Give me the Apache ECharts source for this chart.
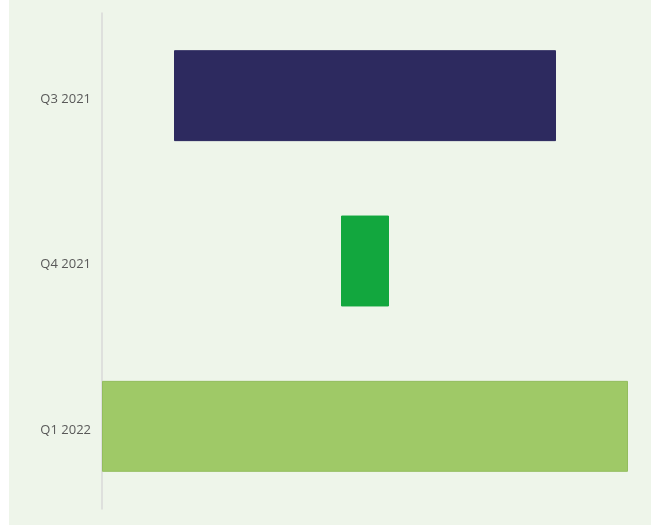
<!DOCTYPE html>
<html><head><meta charset="utf-8">
<script src="https://cdn.jsdelivr.net/npm/echarts@6/dist/echarts.min.js"></script>
<style>html,body{margin:0;padding:0;background:#fff}#c{width:651px;height:526px}</style>
</head><body><div id="c"></div>
<script>
const categories = ['Q3 2021', 'Q4 2021', 'Q1 2022'];
const barStart = [72, 239, 0];
const barEnd = [454, 287, 526];
const barColors = ['#2d2a5f', '#12a73e', '#9fc967'];
const borderColors = ['#2d2a5f', '#12a73e', '#93bd5e'];

const chart = echarts.init(document.getElementById('c'), null, {renderer: 'canvas'});
chart.setOption({
  backgroundColor: '#ffffff',
  animation: false,
  graphic: [{type: 'rect', z: -10, silent: true, shape: {x: 9, y: 0, width: 642, height: 525}, style: {fill: '#eef5ea'}}],
  grid: {left: 102, right: 11, top: 13, bottom: 17, containLabel: false},
  xAxis: {type: 'value', min: 0, max: 538, show: false},
  yAxis: {
    type: 'category', data: categories, inverse: true,
    axisLine: {show: true, lineStyle: {color: '#d9d9d9', width: 1.5}},
    axisTick: {show: false},
    axisLabel: {
      margin: 11,
      formatter: v => '{a|' + v + '}',
      rich: {a: {color: '#595959', fontSize: 13, fontFamily: 'Open Sans, sans-serif', padding: [7, 0, 0, 0]}}
    }
  },
  series: [
    {type: 'bar', stack: 'w', data: barStart, itemStyle: {color: 'transparent'}, barWidth: '55%', silent: true},
    {type: 'bar', stack: 'w', barWidth: '55%',
     data: barEnd.map((e, i) => ({value: e - barStart[i], itemStyle: {color: barColors[i], borderColor: borderColors[i], borderWidth: 1}}))}
  ]
});
</script></body></html>
